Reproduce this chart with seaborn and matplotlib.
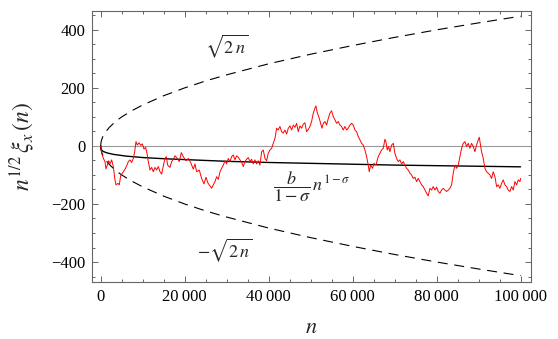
import pandas as pd
import matplotlib
matplotlib.use('Agg')
import matplotlib.pyplot as plt
import seaborn as sns
from matplotlib.ticker import MultipleLocator, FuncFormatter

# values
# upper envelope sqrt(2n) (lower one is its mirror)
env_n = [0, 50, 200, 500, 1000, 2000, 3500, 5000, 7500, 10000, 15000, 20000, 25000,
         30000, 40000, 50000, 60000, 70000, 80000, 90000, 100000]
env_v = [0, 10, 20, 32, 45, 63, 84, 100, 122, 141, 173, 200, 224,
         245, 283, 316, 346, 374, 400, 424, 447]

# drift curve b/(1-sigma) n^(1-sigma)
drift_n = [0, 50, 200, 600, 1500, 3000, 6000, 10000, 15000, 20000, 30000, 40000,
           50000, 60000, 70000, 80000, 90000, 100000]
drift_v = [0, -10, -14, -19, -24, -29, -35, -40, -44, -47, -53, -57,
           -60, -63, -66, -68, -70, -72]

# red walk
walk_n = [0, 230, 630, 1020, 1260, 1580, 1900, 2210, 2610, 3010, 3400, 3640, 4120, 4440,
          4750, 5390, 5790, 6180, 6580, 6980, 7370, 7770, 8090, 8410, 8720, 9120, 9520,
          9910, 10310, 10710, 11020, 11340, 11740, 12140, 12530, 12930, 13330, 13720,
          14120, 14520, 14910, 15310, 15630, 15950, 16500, 16900, 17290, 17690, 18250,
          18720, 19200, 19670, 20310, 20870, 21420, 22060, 22450, 22850, 23480, 24040,
          24600, 25070, 25550, 26420, 26820, 27220, 27610, 28010, 28410, 28800, 29200,
          29600, 29990, 30390, 30790, 31180, 31580, 31980, 32380, 32770, 33170, 33570,
          33960, 34360, 34760, 35150, 35550, 35950, 36340, 36740, 37140, 37530, 37930,
          38330, 38720, 39120, 39520, 39910, 40310, 40710, 41100, 41500, 41900, 42290,
          42690, 43090, 43490, 43880, 44280, 44680, 45070, 45470, 45870, 46260, 46660,
          47060, 47450, 47850, 48250, 48640, 49040, 49440, 49840, 50230, 50630, 51030,
          51260, 51580, 52060, 52370, 52690, 53010, 53410, 53800, 54200, 54600, 54990,
          55390, 55790, 56180, 56580, 56980, 57370, 57770, 58170, 58570, 58960, 59360,
          59760, 60150, 60550, 60950, 61340, 61740, 62140, 62530, 62930, 63330, 63720,
          63960, 64280, 64760, 65070, 65550, 66100, 66500, 66900, 67300, 67690, 67930,
          68250, 68570, 68880, 69280, 69680, 70070, 70470, 70870, 71260, 71660, 72060,
          72450, 72850, 73250, 73650, 74040, 74440, 74840, 75230, 75630, 76030, 76420,
          76820, 77220, 77610, 78010, 78410, 78810, 79200, 79600, 80000, 80390, 80790,
          81190, 81580, 81980, 82380, 82770, 83170, 83570, 83960, 84360, 84760, 85160,
          85550, 85950, 86350, 86740, 87140, 87540, 87930, 88330, 88730, 89120, 89520,
          89920, 90160, 90470, 90710, 91110, 91510, 91900, 92300, 92700, 93090, 93490,
          93890, 94290, 94680, 95080, 95480, 95870, 96270, 96670, 97060, 97460, 97860,
          98250, 98650, 99050, 99440, 99840, 100000]
walk_v = [0, -25, -43, -54, -79, -66, -51, -62, -48, -71, -117, -134, -129, -134,
          -103, -89, -80, -69, -54, -48, -57, -43, -20, 15, 3, 11, 2,
          7, -11, -5, -25, -54, -83, -74, -89, -74, -83, -71,
          -89, -97, -69, -43, -37, -66, -74, -54, -46, -34, -43,
          -54, -23, -37, -51, -43, -57, -80, -62, -89, -83, -112,
          -131, -108, -128, -146, -134, -123, -106, -115, -89, -77, -66,
          -51, -62, -43, -54, -37, -31, -48, -34, -39, -48, -57,
          -71, -54, -46, -40, -54, -46, -62, -48, -62, -51, -66,
          -20, -14, -43, -51, -25, -14, -8, 9, 26, 61, 55,
          67, 49, 44, 55, 41, 61, 69, 55, 72, 64, 78,
          49, 69, 61, 75, 80, 49, 57, 67, 84, 113, 130,
          138, 115, 95, 78, 61, 78, 84, 72, 95, 113, 121,
          101, 90, 78, 84, 72, 67, 55, 67, 55, 61, 72,
          78, 72, 55, 49, 32, 21, 9, 3, -14, -37, -66,
          -89, -66, -77, -60, -66, -37, -25, -14, -8, 23, 15,
          -14, -2, -20, 3, 9, -25, -43, -54, -48, -62, -54,
          -66, -77, -83, -94, -100, -112, -108, -123, -112, -123, -134,
          -140, -152, -163, -172, -146, -152, -140, -152, -142, -157, -163,
          -152, -146, -152, -157, -152, -146, -134, -94, -66, -77, -66,
          -37, -8, 9, 15, -2, 9, -8, 9, -2, -20, 3,
          21, 30, 3, -20, -43, -77, -89, -94, -100, -112, -89,
          -106, -140, -134, -146, -129, -117, -134, -140, -152, -157, -140,
          -152, -123, -134, -117, -123, -112]

env = pd.DataFrame({'n': env_n, 'upper': env_v, 'lower': [-v for v in env_v]})
drift = pd.DataFrame({'n': drift_n, 'v': drift_v})
walk = pd.DataFrame({'n': walk_n, 'v': walk_v})

sns.set_style('ticks')
plt.rcParams['font.family'] = ['Liberation Serif', 'DejaVu Serif']
plt.rcParams['mathtext.fontset'] = 'stix'

fig, ax = plt.subplots(figsize=(5.58, 3.39), dpi=100)
fig.subplots_adjust(left=0.1654, right=0.951, bottom=0.168, top=0.9676)

ax.axhline(0, color='#9a9a9a', lw=0.8, zorder=1)

dash = (0, (9, 6))
sns.lineplot(data=env, x='n', y='upper', color='black', lw=0.8, ax=ax)
ax.lines[-1].set_linestyle(dash)
sns.lineplot(data=env, x='n', y='lower', color='black', lw=0.8, ax=ax)
ax.lines[-1].set_linestyle(dash)
sns.lineplot(data=drift, x='n', y='v', color='black', lw=1.0, ax=ax)
sns.lineplot(data=walk, x='n', y='v', color='#ff0000', lw=0.7, ax=ax)

ax.set_xlim(-2000, 102400)
ax.set_ylim(-469, 465)

# labels on the curves
ax.text(30000, 345, r'$\sqrt{2\,n}$', fontsize=13, ha='center', va='center')
ax.text(29600, -360, r'$-\sqrt{2\,n}$', fontsize=13, ha='center', va='center')
ax.text(50300, -142, r'$\dfrac{b}{1-\sigma}\,n^{1-\sigma}$', fontsize=13,
        ha='center', va='center')

def fmt(v, pos):
    s = f'{abs(int(round(v))):,}'.replace(',', '\u2009')
    return ('\u2212' + s) if v < 0 else s

ax.xaxis.set_major_locator(MultipleLocator(20000))
ax.xaxis.set_minor_locator(MultipleLocator(5000))
ax.yaxis.set_major_locator(MultipleLocator(200))
ax.yaxis.set_minor_locator(MultipleLocator(50))
ax.xaxis.set_major_formatter(FuncFormatter(fmt))
ax.yaxis.set_major_formatter(FuncFormatter(fmt))

frame = '#666666'
for sp in ax.spines.values():
    sp.set_visible(True)
    sp.set_color(frame)
    sp.set_linewidth(0.8)
ax.tick_params(which='both', direction='in', top=True, right=True, colors=frame,
               labelcolor='black', width=0.7, labelsize=12)
ax.tick_params(which='major', length=4.5, pad=5)
ax.tick_params(which='minor', length=2.5)

ax.set_xlabel(r'$n$', fontsize=16)
ax.set_ylabel(r'$n^{1/2}\,\xi_x\,(n)$', fontsize=17)
ax.yaxis.set_label_coords(-0.125, 0.5)
ax.xaxis.set_label_coords(0.5, -0.135)

fig.savefig('out.png', dpi=100)
